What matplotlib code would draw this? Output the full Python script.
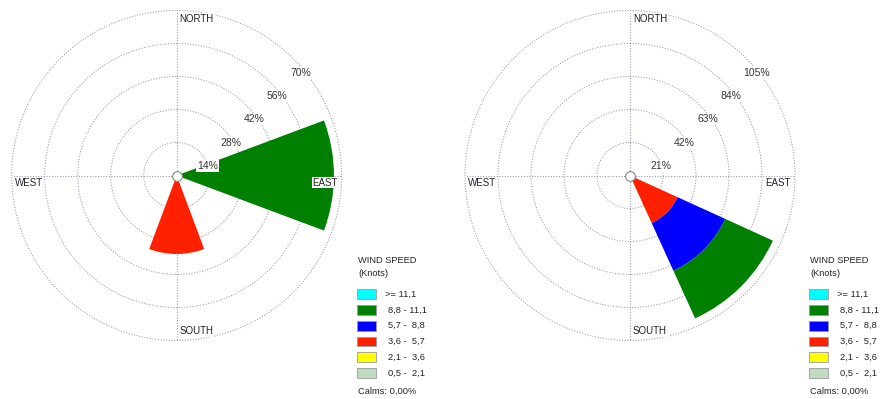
import numpy as np
import matplotlib
matplotlib.use("Agg")
import matplotlib.pyplot as plt
from matplotlib.patches import Rectangle

plt.rcParams['font.family'] = ['Liberation Sans', 'DejaVu Sans']

# ---------------- data ----------------
directions = ['N', 'NE', 'E', 'SE', 'S', 'SW', 'W', 'NW']
dir_angles = [0, 45, 90, 135, 180, 225, 270, 315]
cardinal_labels = ['NORTH', 'EAST', 'SOUTH', 'WEST']
speed_labels = ['0,5 -  2,1', '2,1 -  3,6', '3,6 -  5,7', '5,7 -  8,8', '8,8 - 11,1', '>= 11,1']
speed_colors = ['#C0DCC0', '#FFFF00', '#FF2000', '#0000FF', '#008000', '#00FFFF']

# left rose: frequency (%) per direction for each speed class
left_05_21 = [0, 0, 0, 0, 0, 0, 0, 0]
left_21_36 = [0, 0, 0, 0, 0, 0, 0, 0]
left_36_57 = [0, 0, 0, 0, 33.3, 0, 0, 0]
left_57_88 = [0, 0, 0, 0, 0, 0, 0, 0]
left_88_111 = [0, 0, 66.7, 0, 0, 0, 0, 0]
left_ge_111 = [0, 0, 0, 0, 0, 0, 0, 0]
left_rings = [14, 28, 42, 56, 70]

# right rose
right_05_21 = [0, 0, 0, 0, 0, 0, 0, 0]
right_21_36 = [0, 0, 0, 0, 0, 0, 0, 0]
right_36_57 = [0, 0, 0, 33.3, 0, 0, 0, 0]
right_57_88 = [0, 0, 0, 33.3, 0, 0, 0, 0]
right_88_111 = [0, 0, 0, 33.3, 0, 0, 0, 0]
right_ge_111 = [0, 0, 0, 0, 0, 0, 0, 0]
right_rings = [21, 42, 63, 84, 105]

calms_text = 'Calms: 0,00%'

# ---------------- figure ----------------
W, H = 884, 399
fig = plt.figure(figsize=(W / 100, H / 100), dpi=100)
FS = 6.7
FS_RING = 7.5
FS_CARD = 7.0
TXT = '#222222'
GRID = '#9696ae'


def px(x, y):
    return x / W, 1 - y / H


def draw_rose(cx, cy, R, bins, rings):
    ax = fig.add_axes([(cx - R) / W, (H - cy - R) / H, 2 * R / W, 2 * R / H],
                      projection='polar')
    ax.set_theta_zero_location('N')
    ax.set_theta_direction(-1)
    ax.set_ylim(0, rings[-1])
    theta = np.deg2rad(dir_angles)
    bottom = np.zeros(len(directions))
    for vals, col in zip(bins, speed_colors):
        v = np.array(vals, dtype=float)
        ax.bar(theta, v, width=np.deg2rad(41), bottom=bottom, color=col,
               edgecolor='none', linewidth=0, zorder=2)
        bottom += v
    ax.set_rgrids(rings, labels=[''] * len(rings))
    ax.set_thetagrids([0, 90, 180, 270], labels=[''] * 4)
    ax.set_axisbelow(True)
    ax.grid(True, color=GRID, linestyle=(0, (1, 1.6)), linewidth=0.75)
    for gl in ax.yaxis.get_gridlines() + ax.xaxis.get_gridlines():
        gl.set_clip_on(False)
    ax.spines['polar'].set_visible(False)
    bb = dict(boxstyle='square,pad=0.08', fc='white', ec='none')
    for r in rings:
        ax.annotate(f'{r}%', xy=(np.deg2rad(45), r), xytext=(-3, -14),
                    textcoords='offset pixels', ha='left', va='center',
                    fontsize=FS_RING, color='#333333', bbox=bb, zorder=5,
                    annotation_clip=False)
    rmax = rings[-1]
    specs = [(0, (3, -8), 'left'), (90, (-4, -7), 'right'),
             (180, (3, 9), 'left'), (270, (3, -7), 'left')]
    for lab, (ang, off, ha) in zip(cardinal_labels, specs):
        ax.annotate(lab, xy=(np.deg2rad(ang), rmax), xytext=off,
                    textcoords='offset pixels', ha=ha, va='center',
                    fontsize=FS_CARD, color=TXT, bbox=bb, zorder=5,
                    annotation_clip=False)
    ax.plot([0], [0], 'o', ms=7, mfc='white', mec='#888888', mew=0.8,
            zorder=6, clip_on=False)
    return ax


def draw_legend(x0):
    fig.text(*px(x0 + 1, 260.7), 'WIND SPEED', fontsize=FS, color=TXT,
             ha='left', va='center')
    fig.text(*px(x0 + 1, 273.3), '(Knots)', fontsize=FS, color=TXT,
             ha='left', va='center')
    labels = speed_labels[::-1]
    colors = speed_colors[::-1]
    for i, (lab, col) in enumerate(zip(labels, colors)):
        yc = 294.2 + i * 15.75
        x, y = px(x0, yc + 4.8)
        fig.add_artist(Rectangle((x, y), 18.4 / W, 9.6 / H, transform=fig.transFigure,
                                 fc=col, ec='#9a9a9a', lw=0.6))
        tx = x0 + 27.7 if lab.startswith('>=') else x0 + 31
        fig.text(*px(tx, yc), lab, fontsize=FS, color=TXT, ha='left', va='center')
    fig.text(*px(x0 + 1, 391.7), calms_text, fontsize=FS, color=TXT,
             ha='left', va='center')


draw_rose(176.7, 175.5, 165,
          [left_05_21, left_21_36, left_36_57, left_57_88, left_88_111, left_ge_111],
          left_rings)
draw_rose(630, 175.5, 165,
          [right_05_21, right_21_36, right_36_57, right_57_88, right_88_111, right_ge_111],
          right_rings)
draw_legend(357.3)
draw_legend(809.3)

fig.savefig('out.png', dpi=100, facecolor='white')
